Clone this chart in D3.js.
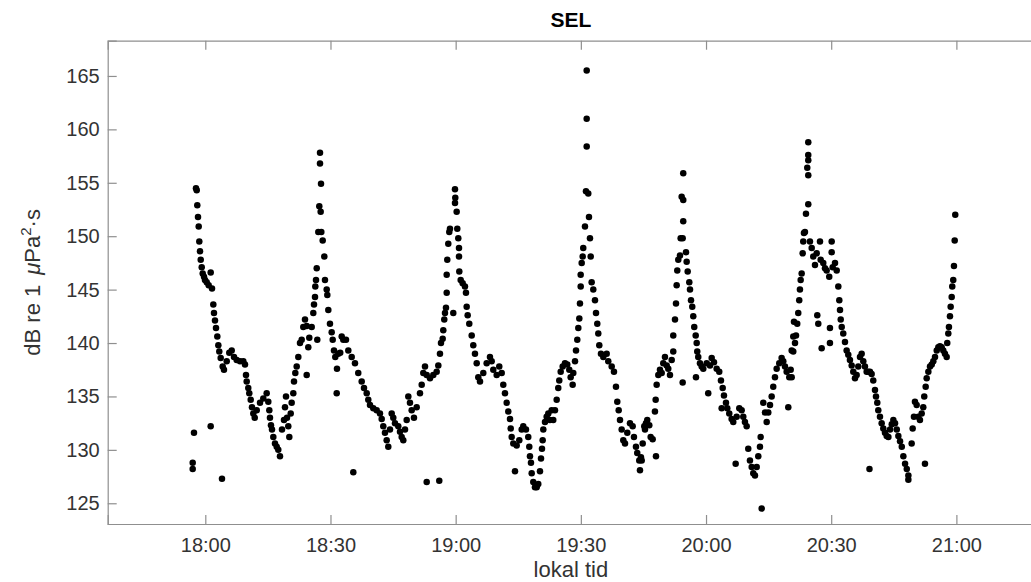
<!DOCTYPE html>
<html><head><meta charset="utf-8">
<script src="https://cdn.jsdelivr.net/npm/d3@7"></script>
<style>body{margin:0;background:#fff}svg{display:block;font-family:"Liberation Sans",Arial,sans-serif}</style>
</head><body><svg id="c" width="1031" height="582"></svg>
<script>
// minutes after 18:00
const minutes = [
-2.71,-3.02,-3.02,1.29,1.29,4.00,
-2.23,-2.06,-1.92,-1.75,-1.58,-1.44,-1.27,-1.10,-0.86,-0.62,-0.31,-0.07,0.34,0.81,1.61,1.92,2.08,2.32,2.56,2.88,3.12,3.35,3.69,4.17,4.48,5.13,5.75,6.33,6.88,7.52,8.32,9.11,9.51,9.75,9.92,10.30,10.54,10.88,11.19,11.50,11.84,12.32,13.11,13.90,14.71,15.10,15.34,15.50,15.74,15.98,16.30,16.70,17.11,17.49,17.90,18.38,18.86,19.10,19.34,19.58,19.89,20.13,20.47,20.70,21.09,21.26,21.57,21.90,22.29,22.69,23.10,23.48,23.89,24.30,24.68,24.30,24.92,25.50,25.88,26.05,26.29,26.36,26.53,26.70,26.84,27.08,27.32,27.65,27.73,27.49,27.49,27.80,28.13,28.52,28.68,29.09,29.24,29.48,29.88,30.29,30.53,30.84,31.15,31.56,31.49,31.87,32.69,
32.33,33.07,33.72,34.27,35.08,35.87,36.66,37.48,38.03,38.68,39.06,39.47,40.26,41.07,41.86,42.27,42.65,43.06,43.47,43.85,44.26,44.67,45.05,45.46,46.25,46.66,47.06,47.45,47.86,48.26,48.65,49.05,49.46,50.01,50.66,51.45,51.86,52.24,52.65,53.06,53.85,54.64,55.45,55.84,56.24,56.48,56.89,57.03,57.27,57.44,57.68,57.85,57.85,57.99,58.23,58.47,58.64,59.43,59.84,59.84,59.91,60.24,60.39,60.63,60.80,60.80,60.87,61.20,61.68,62.23,62.47,62.64,62.88,63.26,63.84,64.22,64.63,65.04,65.42,65.83,66.62,67.43,68.22,35.47,53.06,56.07,
68.63,69.02,69.83,70.45,71.03,71.41,71.82,72.23,72.61,73.02,73.19,73.42,73.81,74.22,74.62,75.25,75.82,76.20,76.85,77.40,77.64,77.81,78.05,78.22,78.60,79.01,79.42,79.80,80.21,80.45,80.69,80.85,81.00,81.41,81.81,82.20,82.60,83.01,83.39,83.80,84.21,84.59,84.83,85.17,85.65,86.20,86.75,87.23,87.56,88.04,88.19,88.60,88.84,89.15,89.39,89.63,89.79,89.96,89.96,90.20,90.44,90.58,90.99,91.23,91.78,91.40,91.40,91.40,91.95,92.19,92.36,92.59,92.98,93.39,93.63,93.94,94.18,94.42,94.82,95.38,96.19,96.57,97.39,97.94,98.42,98.73,99.07,99.38,99.78,100.17,100.58,101.13,101.78,102.42,102.73,103.21,103.52,104.00,104.41,104.82,105.20,
104.17,104.58,105.37,105.61,105.92,106.40,106.73,107.21,107.76,107.93,108.01,108.17,108.56,108.96,109.37,109.75,110.16,110.57,110.95,111.36,111.77,112.15,112.15,112.56,112.80,112.96,113.11,113.35,113.76,113.92,114.40,114.54,114.16,114.54,114.54,114.40,115.20,115.36,115.60,115.99,116.16,116.40,116.70,116.94,117.18,117.52,117.76,117.90,118.14,118.55,118.96,117.59,119.34,120.16,120.95,121.36,121.91,122.55,123.17,120.53,123.58,123.99,124.30,124.78,125.09,123.75,125.57,126.14,126.53,127.34,127.97,128.54,128.93,129.33,129.74,127.10,130.12,130.53,130.94,131.32,131.73,132.14,132.52,132.93,133.10,133.34,133.72,134.13,134.54,134.92,135.33,135.73,136.11,136.52,136.93,137.55,138.12,138.51,138.92,139.32,139.71,139.95,140.29,140.53,140.91,141.08,
140.53,140.91,141.32,141.56,141.86,142.10,142.34,142.51,142.68,142.92,143.16,143.30,143.47,143.71,143.95,144.50,144.50,144.26,144.50,144.50,144.50,144.91,145.32,145.70,146.11,146.52,146.66,146.90,147.31,147.47,147.71,148.10,148.51,148.91,149.53,149.70,149.70,150.11,150.11,150.35,150.91,151.31,151.70,151.94,152.11,152.28,152.52,152.89,153.30,153.70,154.09,154.49,154.90,155.29,155.70,156.10,156.49,156.90,157.30,157.69,158.09,158.50,158.88,159.29,159.69,160.08,160.49,160.73,161.04,161.28,161.69,162.09,162.48,162.89,163.29,163.70,164.10,164.51,164.89,165.30,165.71,166.09,166.50,166.91,167.29,167.70,168.11,168.49,168.49,159.17,169.28,169.52,169.83,170.07,170.48,170.86,171.27,171.68,172.06,172.30,172.47,172.64,172.88,173.28,173.68,174.09,174.47,174.88,175.29,175.67,176.06,176.47,176.86,177.26,177.67,177.81,178.06,178.22,178.46,178.63,178.87,179.01,179.25,179.42,179.59,179.73
];
// SEL values, dB re 1 µPa²·s
const sel = [
131.6,128.8,128.2,132.2,146.6,127.3,
154.5,154.3,152.9,151.8,150.9,149.5,148.6,147.8,147.1,146.5,146.2,145.9,145.7,145.4,145.1,143.6,142.8,142.1,141.4,140.6,139.8,139.2,138.6,137.8,137.5,138.3,139.1,139.3,138.7,138.4,138.3,138.3,138.0,137.0,136.4,135.8,135.3,134.7,134.0,133.4,133.0,133.7,134.4,134.8,135.3,134.5,133.7,133.0,132.3,131.9,131.2,130.6,130.3,130.0,129.4,131.9,132.8,134.0,135.0,133.0,132.2,131.2,133.4,134.4,135.3,136.4,137.2,137.8,138.7,140.0,140.3,141.5,142.2,141.6,139.6,137.0,140.5,141.5,142.8,143.6,144.3,145.3,145.9,147.0,140.3,150.4,152.8,152.3,154.9,156.8,157.8,150.4,149.6,148.1,145.9,145.0,144.5,143.1,141.8,141.0,140.3,139.3,138.7,137.6,135.3,139.0,140.6,
139.1,140.3,140.3,139.3,138.7,138.1,137.2,136.4,135.8,135.3,134.7,134.2,133.9,133.7,133.4,132.9,132.2,131.6,130.9,130.3,131.9,133.4,133.0,132.5,132.2,131.7,131.2,130.9,131.9,132.8,135.0,134.4,133.7,133.0,134.0,135.3,136.1,137.2,137.8,137.0,136.7,137.0,137.3,137.9,139.0,140.0,140.4,141.2,142.2,142.8,143.3,144.7,146.4,147.8,149.3,150.4,150.7,142.8,153.1,154.4,153.6,152.3,150.7,149.8,148.9,148.1,146.7,145.9,145.6,145.3,144.7,143.4,142.6,141.8,140.7,139.8,139.0,138.1,136.8,136.4,137.2,138.1,138.7,127.9,127.0,127.1,
138.3,137.5,137.0,137.8,137.2,136.1,135.3,134.4,133.6,132.9,132.0,131.2,130.6,128.0,130.4,130.9,131.9,132.2,131.9,131.2,130.3,129.4,128.8,127.8,127.0,126.5,126.5,126.8,128.0,129.2,130.1,130.9,131.9,132.6,133.1,133.4,132.8,133.7,132.8,133.7,134.7,135.8,136.5,137.3,137.8,138.1,138.0,137.5,136.8,136.1,137.2,138.3,139.3,140.3,141.4,142.3,143.7,145.3,146.4,147.5,148.1,148.9,150.9,154.2,154.0,158.4,161.0,165.5,151.8,149.8,148.1,145.7,145.0,144.0,142.8,141.8,140.9,139.8,139.0,138.7,139.0,138.3,137.8,137.3,135.9,134.5,133.7,132.8,131.9,130.9,130.6,131.6,132.5,132.2,131.2,130.3,129.7,129.0,129.3,130.6,132.2,
128.1,129.0,131.9,132.5,132.8,132.3,131.2,131.0,133.6,134.7,129.4,136.1,137.0,137.5,137.2,138.1,138.7,137.9,137.6,137.0,138.4,139.2,140.7,142.2,143.7,145.4,146.8,147.8,148.2,149.8,149.8,151.4,153.7,153.4,155.9,136.3,148.5,147.6,146.7,145.7,145.0,144.0,143.4,142.5,141.5,140.7,140.0,139.2,138.7,138.1,137.8,136.8,137.6,138.1,137.9,138.6,138.2,137.6,137.3,135.3,136.5,135.8,135.1,134.4,133.9,133.9,133.4,132.9,132.6,133.1,133.9,133.7,133.1,132.6,132.2,128.7,130.1,129.0,128.4,127.8,127.6,128.4,129.4,130.3,131.2,124.5,134.4,133.5,132.6,133.5,134.2,135.0,135.9,136.8,137.6,138.1,138.6,138.3,137.8,137.3,134.0,136.8,137.5,139.3,140.6,142.0,
136.8,139.2,140.0,140.7,141.8,142.8,144.0,145.0,145.9,146.5,148.4,149.5,150.3,150.4,152.1,153.0,155.7,156.4,157.1,157.6,158.8,149.5,148.9,148.1,147.3,148.4,142.6,141.8,149.5,147.8,139.5,147.5,147.0,146.8,146.2,141.4,140.0,149.5,148.5,147.1,147.5,146.8,145.3,144.0,143.1,142.2,141.5,140.9,140.1,139.3,138.9,138.4,137.9,137.3,136.7,137.0,137.8,138.7,139.0,138.3,137.8,137.3,137.3,137.3,137.1,136.5,135.6,135.0,134.4,133.7,133.1,132.5,132.0,131.6,131.3,131.2,131.9,132.4,132.8,132.5,131.9,131.3,130.8,130.3,129.4,128.7,128.2,127.6,127.2,128.2,130.6,132.0,133.1,134.5,134.2,133.1,132.8,133.4,134.0,135.0,128.7,135.9,136.7,137.3,137.8,138.0,138.3,138.7,139.3,139.6,139.7,139.6,139.3,139.0,138.7,140.0,140.9,141.5,142.5,143.4,144.3,145.3,145.9,147.2,149.6,152.0
];
const xTickMinutes = [0,30,60,90,120,150,180];
const xTickLabels = ["18:00","18:30","19:00","19:30","20:00","20:30","21:00"];
const yTicks = [125,130,135,140,145,150,155,160,165];

const svg = d3.select("#c");
const L = 107.7, R = 1034, T = 40.7, B = 524;
const x = d3.scaleLinear().domain([-23.39, 198.6]).range([L, R]);
const y = d3.scaleLinear().domain([123.06, 168.3]).range([B, T]);
const axisCol = "#8f8f8f", txtCol = "#333333";

const data = minutes.map((m, i) => ({m, v: sel[i]}));

svg.append("g").selectAll("circle").data(data).join("circle")
  .attr("cx", d => x(d.m)).attr("cy", d => y(d.v)).attr("r", 3.25).attr("fill", "#000");

const gx = svg.append("g").attr("transform", `translate(0,${B})`)
  .call(d3.axisBottom(x).tickValues(xTickMinutes).tickFormat((d,i)=>xTickLabels[i]).tickSize(-9).tickPadding(14));
const gxt = svg.append("g").attr("transform", `translate(0,${T})`)
  .call(d3.axisTop(x).tickValues(xTickMinutes).tickFormat("").tickSize(-9));
const gy = svg.append("g").attr("transform", `translate(${L},0)`)
  .call(d3.axisLeft(y).tickValues(yTicks).tickSize(-9).tickPadding(8));
[gx,gxt,gy].forEach(g=>{
  g.select(".domain").attr("stroke", axisCol).attr("stroke-width", 1.2);
  g.selectAll(".tick line").attr("stroke", axisCol).attr("stroke-width", 1.2);
  g.selectAll(".tick text").attr("fill", txtCol).attr("font-size", 20).attr("font-family", "Liberation Sans, Arial, sans-serif");
});

svg.append("text").attr("x", (L+R)/2).attr("y", 27).attr("text-anchor","middle")
  .attr("font-size", 21).attr("font-weight","bold").attr("fill","#000").text("SEL");
svg.append("text").attr("x", (L+R)/2).attr("y", 577).attr("text-anchor","middle")
  .attr("font-size", 22).attr("fill", txtCol).text("lokal tid");
const yl = svg.append("text").attr("transform", `translate(40,${(T+B)/2}) rotate(-90)`)
  .attr("text-anchor","middle").attr("font-size", 22).attr("fill", txtCol);
yl.append("tspan").text("dB re 1");
yl.append("tspan").attr("dx", 10).attr("font-style","italic").text("μ");
yl.append("tspan").text("Pa");
yl.append("tspan").attr("dy",-9).attr("font-size",15).text("2");
yl.append("tspan").attr("dy",9).text("·s");
</script></body></html>
